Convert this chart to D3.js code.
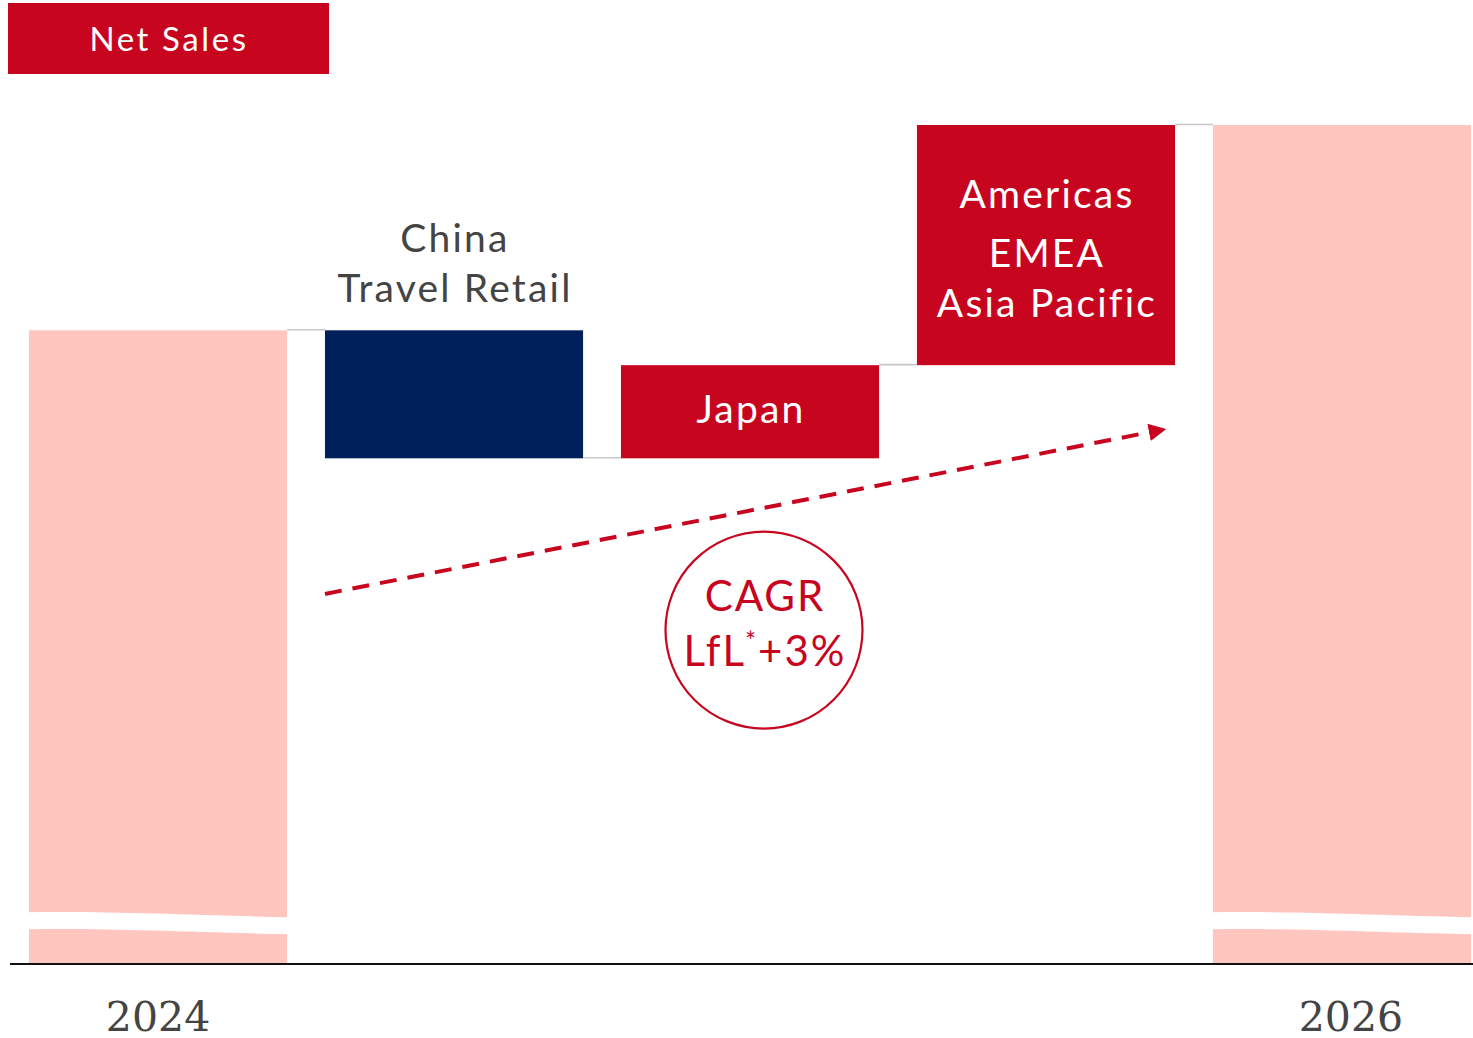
<!DOCTYPE html>
<html>
<head>
<meta charset="utf-8">
<script src="https://cdn.jsdelivr.net/npm/d3@7/dist/d3.min.js"></script>
<style>
  html, body { margin: 0; padding: 0; background: #fff; }
  svg { display: block; }
</style>
</head>
<body>
<svg id="chart" width="1473" height="1038"></svg>
<script>
// Net sales bridge 2024 -> 2026 (index, 2024 = 100)
const categories = ["2024", "China Travel Retail", "Japan", "Americas EMEA Asia Pacific", "2026"];
const kinds      = ["total", "delta", "delta", "delta", "total"];
const deltas     = [100, -20.2, 14.7, 37.9, null];   // null = running total
const barLabels  = [[], ["China", "Travel Retail"], ["Japan"], ["Americas", "EMEA", "Asia Pacific"], []];
const tickLabels = ["2024", "", "", "", "2026"];
const trendStart = [58.4];   // dashed growth arrow, start / end levels
const trendEnd   = [83.9];
const cagrLevel  = [52.7];   // centre of the CAGR badge
const breakLevel = [6.6];    // where the total bars are cut

const RED = "#c8051f", NAVY = "#00205b", PINK = "#ffc6c0", GREY = "#c8c8c8", INK = "#444444";

// running totals -> start / end of every bar
let run = 0;
const bars = categories.map((c, i) => {
  let y0, y1;
  if (kinds[i] === "total") {
    if (deltas[i] !== null) run = deltas[i];
    y0 = 0; y1 = run;
  } else {
    y0 = run; run += deltas[i]; y1 = run;
  }
  return { cat: c, kind: kinds[i], y0, y1, delta: deltas[i], labels: barLabels[i] };
});

const svg = d3.select("#chart");
const x = d3.scaleBand().domain(categories).range([29, 1471]).paddingInner(0.128).paddingOuter(0);
const y = d3.scaleLinear().domain([0, run]).range([964, 125]);
const bw = x.bandwidth();

function barFill(d) {
  if (d.kind === "total") return PINK;
  return d.delta < 0 ? NAVY : RED;
}

// bars
svg.append("g").selectAll("rect").data(bars).join("rect")
  .attr("x", d => x(d.cat))
  .attr("y", d => y(Math.max(d.y0, d.y1)))
  .attr("width", bw)
  .attr("height", d => Math.abs(y(d.y0) - y(d.y1)))
  .attr("fill", barFill);

// connectors between consecutive bars
const links = bars.slice(0, -1).map((d, i) => ({ x1: x(d.cat) + bw, x2: x(bars[i + 1].cat), v: d.y1 }));
svg.append("g").selectAll("line").data(links).join("line")
  .attr("x1", d => d.x1).attr("x2", d => d.x2)
  .attr("y1", d => y(d.v) - 0.5).attr("y2", d => y(d.v) - 0.5)
  .attr("stroke", GREY).attr("stroke-width", 1.6);

// axis-break cut through the total bars
const yb = y(breakLevel[0]);
svg.append("g").selectAll("path").data(bars.filter(d => d.kind === "total")).join("path")
  .attr("fill", "#fff")
  .attr("d", d => {
    const a = x(d.cat) - 1, b = x(d.cat) + bw + 1, m = (a + b) / 2;
    return `M${a},${yb - 10} C${m - 40},${yb - 11} ${m + 30},${yb - 7} ${b},${yb - 5}`
         + ` L${b},${yb + 12} C${m + 30},${yb + 10} ${m - 40},${yb + 6} ${a},${yb + 7} Z`;
  });

// baseline
svg.append("line")
  .attr("x1", 10).attr("x2", 1473)
  .attr("y1", y(0)).attr("y2", y(0))
  .attr("stroke", "#111").attr("stroke-width", 2);

// year labels
const axis = d3.axisBottom(x).tickSize(0).tickPadding(0).tickFormat((d, i) => tickLabels[i]);
const ax = svg.append("g").attr("transform", `translate(0,${y(0)})`).call(axis);
ax.select(".domain").remove();
ax.selectAll("text")
  .attr("y", 67).attr("dy", 0)
  .attr("dx", (d, i) => (i === categories.length - 1 ? 9 : 0))
  .attr("font-family", "'DejaVu Serif', serif")
  .attr("font-size", 41)
  .attr("fill", INK);

// bar captions
const fontSans = "Lato, 'Open Sans', sans-serif";
bars.forEach(d => {
  if (!d.labels.length) return;
  const cx = x(d.cat) + bw / 2;
  let lines;
  if (d.delta < 0) {
    // caption sits above a decrease
    const top = y(d.y0);
    lines = d.labels.map((t, i) => ({ t, y: top - 28 - (d.labels.length - 1 - i) * 50, fill: INK }));
  } else {
    const top = y(d.y1), bot = y(d.y0);
    if (d.labels.length === 1) {
      lines = [{ t: d.labels[0], y: (top + bot) / 2 + 11, fill: "#fff" }];
    } else {
      const offs = [83, 142, 192];
      lines = d.labels.map((t, i) => ({ t, y: top + offs[i], fill: "#fff" }));
    }
  }
  svg.append("g").selectAll("text").data(lines).join("text")
    .attr("x", cx + 1).attr("y", l => l.y)
    .attr("text-anchor", "middle")
    .attr("font-family", fontSans)
    .attr("font-size", 39)
    .attr("letter-spacing", 2.2)
    .attr("fill", l => l.fill)
    .text(l => l.t);
});

// dashed growth arrow
svg.append("defs").append("marker")
  .attr("id", "arrow").attr("viewBox", "0 0 10 10")
  .attr("refX", 0).attr("refY", 5)
  .attr("markerWidth", 4.4).attr("markerHeight", 4.4)
  .attr("markerUnits", "strokeWidth")
  .attr("orient", "auto")
  .append("path").attr("d", "M0,0 L10,5 L0,10 Z").attr("fill", RED);

const ax1 = x(categories[1]);
const ax2 = x(categories[3]) + bw - 26;
svg.append("line")
  .attr("x1", ax1).attr("y1", y(trendStart[0]))
  .attr("x2", ax2).attr("y2", y(trendEnd[0]))
  .attr("stroke", RED).attr("stroke-width", 4)
  .attr("stroke-dasharray", "17 11")
  .attr("marker-end", "url(#arrow)");

// CAGR badge
const bx = x(categories[2]) + bw / 2 + 14, by = y(cagrLevel[0]);
svg.append("circle")
  .attr("cx", bx).attr("cy", by).attr("r", 98.5)
  .attr("fill", "#fff").attr("stroke", RED).attr("stroke-width", 2.2);
svg.append("text")
  .attr("x", bx + 1).attr("y", by - 19)
  .attr("text-anchor", "middle")
  .attr("font-family", fontSans).attr("font-size", 42).attr("fill", RED)
  .attr("letter-spacing", 2)
  .text("CAGR");
const t2 = svg.append("text")
  .attr("x", bx + 1).attr("y", by + 36)
  .attr("text-anchor", "middle")
  .attr("font-family", fontSans).attr("font-size", 42).attr("fill", RED)
  .attr("letter-spacing", 2);
t2.append("tspan").text("LfL");
t2.append("tspan").attr("font-size", 26).attr("dy", -15).attr("dx", -1).text("*");
t2.append("tspan").attr("dy", 15).text("+3%");

// title tab
svg.append("rect").attr("x", 8).attr("y", 3).attr("width", 321).attr("height", 71).attr("fill", RED);
svg.append("text")
  .attr("x", 169).attr("y", 51)
  .attr("text-anchor", "middle")
  .attr("font-family", fontSans).attr("font-size", 33).attr("fill", "#fff")
  .attr("letter-spacing", 2.6)
  .text("Net Sales");
</script>
</body>
</html>
